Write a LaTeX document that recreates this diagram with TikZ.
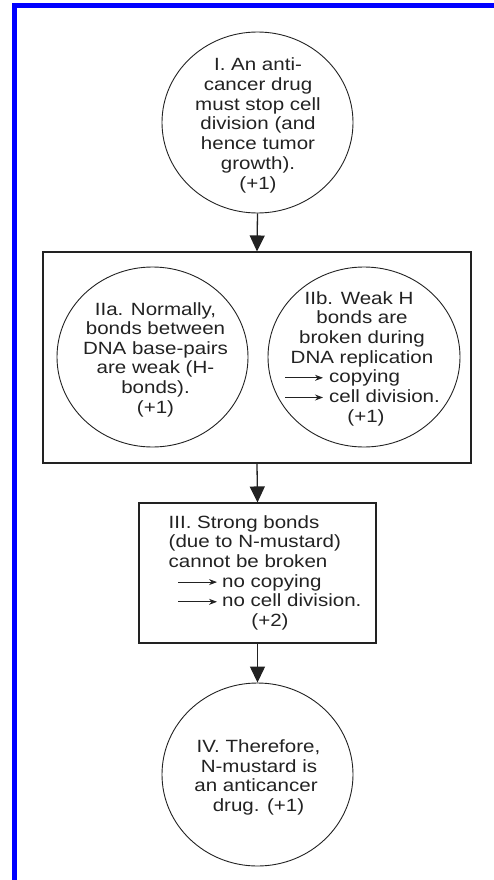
\documentclass[tikz,border=0pt]{standalone}
\usepackage{fontspec}
\setmainfont[FakeStretch=1.16]{Liberation Sans}
\usetikzlibrary{arrows.meta,shapes.geometric}
\definecolor{ink}{HTML}{222222}
\definecolor{frameblue}{RGB}{0,0,255}
\begin{document}
\begin{tikzpicture}[x=1pt,y=-1pt,
  every node/.style={font=\fontsize{17.7}{19.8}\selectfont, text=ink},
  txt/.style={inner sep=0pt, anchor=base},
  txtl/.style={inner sep=0pt, anchor=base west},
  bubble/.style={draw=ink, line width=0.9pt, ellipse, inner sep=0pt},
  panel/.style={draw=ink, line width=1.1pt, rectangle, inner sep=0pt},
  flow/.style={draw=ink, line width=1.3pt, -{Triangle[length=16pt,width=15pt]}},
  mini/.style={draw=ink, line width=0.9pt, -{Stealth[length=8pt,width=6pt]}}]
\useasboundingbox (0,0) rectangle (494,880);
% blue frame (top and left)
\fill[frameblue] (12,3) rectangle (494,8);
\fill[frameblue] (12,3) rectangle (17,880);

% shapes
\node[bubble, minimum width=191pt, minimum height=181pt] (c1) at (257.5,122.5) {};
\node[panel, minimum width=428pt, minimum height=211pt] (b2) at (257,357.5) {};
\node[bubble, minimum width=191pt, minimum height=180pt] (c2a) at (152.5,357) {};
\node[bubble, minimum width=192pt, minimum height=180pt] (c2b) at (364,357) {};
\node[panel, minimum width=237pt, minimum height=140pt] (b3) at (257.5,573) {};
\node[bubble, minimum width=191pt, minimum height=183pt] (c4) at (257.5,774.5) {};

% connectors
\draw[flow] (c1.south) -- (b2.north);
\draw[flow] (b2.south) -- (b3.north);
\draw[flow] (b3.south) -- (c4.north);

% text I
\node[txt] (t1a) at (258,70.5) {I. An anti-};
\node[txt] (t1b) at (258,90.3) {cancer drug};
\node[txt] (t1c) at (258,110.1) {must stop cell};
\node[txt] (t1d) at (258,129.9) {division (and};
\node[txt] (t1e) at (258,149.7) {hence tumor};
\node[txt] (t1f) at (258,169.5) {growth).};
\node[txt] (t1g) at (258,189.3) {(+1)};

% text IIa
\node[txt] (t2a1) at (155.5,315) {IIa. Normally,};
\node[txt] (t2a2) at (155.5,334.6) {bonds between};
\node[txt] (t2a3) at (155.5,354.2) {DNA base-pairs};
\node[txt] (t2a4) at (155.5,373.8) {are weak (H-};
\node[txt] (t2a5) at (155.5,393.4) {bonds).};
\node[txt] (t2a6) at (155.5,413) {(+1)};

% text IIb
\node[txt] (t2b1) at (359,304) {IIb. Weak H};
\node[txt] (t2b2) at (362,323.7) {bonds are};
\node[txt] (t2b3) at (362,343.4) {broken during};
\node[txt] (t2b4) at (362,363.1) {DNA replication};
\node[txtl] (t2b5) at (329,382.8) {copying};
\node[txtl] (t2b6) at (329,402.5) {cell division.};
\node[txt] (t2b7) at (366,422.2) {(+1)};
\coordinate (s2b5) at (285,377.8);
\coordinate (e2b5) at (323,377.8);
\coordinate (s2b6) at (285,397.5);
\coordinate (e2b6) at (323,397.5);
\draw[mini] (s2b5) -- (e2b5);
\draw[mini] (s2b6) -- (e2b6);

% text III
\node[txtl] (t3a) at (168.5,528) {III. Strong bonds};
\node[txtl] (t3b) at (168.5,547.7) {(due to N-mustard)};
\node[txtl] (t3c) at (168.5,567.4) {cannot be broken};
\node[txtl] (t3d) at (222,587.1) {no copying};
\node[txtl] (t3e) at (222,606.8) {no cell division.};
\node[txt] (t3f) at (270,626.5) {(+2)};
\coordinate (s3d) at (178,582.1);
\coordinate (e3d) at (217,582.1);
\coordinate (s3e) at (178,601.8);
\coordinate (e3e) at (217,601.8);
\draw[mini] (s3d) -- (e3d);
\draw[mini] (s3e) -- (e3e);

% text IV
\node[txt] (t4a) at (258.5,752.3) {IV. Therefore,};
\node[txt] (t4b) at (259,772.1) {N-mustard is};
\node[txt] (t4c) at (256,791.9) {an anticancer};
\node[txt] (t4d) at (258.5,811.7) {drug. (+1)};
\end{tikzpicture}
\end{document}
